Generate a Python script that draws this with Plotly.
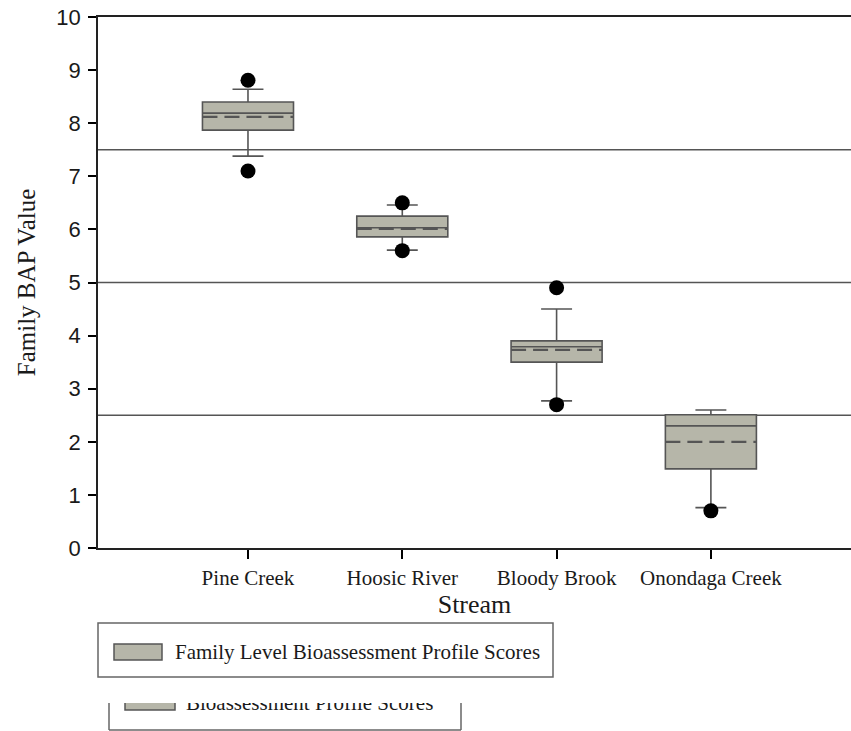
import plotly.graph_objects as go

streams = ["Pine Creek", "Hoosic River", "Bloody Brook", "Onondaga Creek"]
positions = [0, 1, 2, 3]
q1 = [7.87, 5.86, 3.50, 1.49]
median = [8.19, 6.03, 3.79, 2.30]
q3 = [8.40, 6.25, 3.90, 2.51]
mean = [8.12, 6.01, 3.73, 2.00]
lower_whisker = [7.38, 5.61, 2.77, 0.76]
upper_whisker = [8.64, 6.46, 4.50, 2.60]
outlier_x = [0, 0, 1, 1, 2, 2, 3]
outlier_y = [8.81, 7.10, 6.50, 5.60, 4.90, 2.70, 0.70]
category_lines = [7.5, 5.0, 2.5]
legend_label = "Family Level Bioassessment Profile Scores"
legend_label_cut = "Bioassessment Profile Scores"

W, H = 851, 731
BOX_W = 0.59
BOX_FILL = "#b6b6a9"
BOX_LINE = "#555555"
SERIF = "Liberation Serif"
SANS = "Liberation Sans"
TXT = "#1a1a1a"

fig = go.Figure()
fig.add_trace(go.Box(
    x=positions, q1=q1, median=median, q3=q3,
    lowerfence=lower_whisker, upperfence=upper_whisker,
    boxpoints=False, width=BOX_W, whiskerwidth=0.34,
    fillcolor=BOX_FILL, line=dict(color=BOX_LINE, width=1.6),
    showlegend=False, hoverinfo="skip",
))
# mean lines (long dashes)
mx, my = [], []
for p, m in zip(positions, mean):
    mx += [p - BOX_W / 2, p + BOX_W / 2, None]
    my += [m, m, None]
fig.add_trace(go.Scatter(
    x=mx, y=my, mode="lines", line=dict(color="#555555", width=2.2, dash="15px,7px"),
    showlegend=False, hoverinfo="skip",
))
fig.add_trace(go.Scatter(
    x=outlier_x, y=outlier_y, mode="markers",
    marker=dict(color="black", size=15), showlegend=False, hoverinfo="skip",
))

# clipped second legend text (bottom strip)
fig.add_trace(go.Scatter(
    x=[186], y=[705], mode="text", text=[legend_label_cut],
    textposition="middle right", textfont=dict(family=SERIF, size=21, color=TXT),
    xaxis="x2", yaxis="y2", cliponaxis=True, showlegend=False, hoverinfo="skip",
))

shapes = []
for v in category_lines:
    shapes.append(dict(type="line", xref="paper", yref="y", x0=98 / W, x1=1, y0=v, y1=v,
                       line=dict(color="#555555", width=1.5), layer="below"))


def px(xp):
    return xp / W


def py(yp):
    return 1 - yp / H


# legend box 1
shapes.append(dict(type="rect", xref="paper", yref="paper", x0=px(98), x1=px(553), y0=py(677), y1=py(623),
                   line=dict(color="#666666", width=1.5)))
shapes.append(dict(type="rect", xref="paper", yref="paper", x0=px(114), x1=px(162), y0=py(660), y1=py(644),
                   fillcolor=BOX_FILL, line=dict(color=BOX_LINE, width=1.5)))
# legend box 2 (cut off at the top)
shapes.append(dict(type="line", xref="paper", yref="paper", x0=px(109), x1=px(109), y0=py(730), y1=py(703),
                   line=dict(color="#666666", width=1.5)))
shapes.append(dict(type="line", xref="paper", yref="paper", x0=px(461), x1=px(461), y0=py(730), y1=py(703),
                   line=dict(color="#666666", width=1.5)))
shapes.append(dict(type="line", xref="paper", yref="paper", x0=px(109), x1=px(461), y0=py(730), y1=py(730),
                   line=dict(color="#666666", width=1.5)))
shapes.append(dict(type="rect", xref="x2", yref="y2", x0=125, x1=175, y0=694, y1=710,
                   fillcolor=BOX_FILL, line=dict(color=BOX_LINE, width=1.5)))

annotations = [
    dict(xref="paper", yref="paper", x=px(173), y=py(652), text=legend_label, showarrow=False,
         xanchor="left", yanchor="middle", font=dict(family=SERIF, size=21, color=TXT)),
]

fig.update_layout(
    width=W, height=H, margin=dict(l=0, r=0, t=0, b=0, autoexpand=False),
    paper_bgcolor="white", plot_bgcolor="white",
    shapes=shapes, annotations=annotations,
    xaxis=dict(
        domain=[98 / W, 1], range=[-0.972, 3.908],
        tickvals=positions, ticktext=streams, ticks="outside", ticklen=9, tickwidth=1.5,
        tickcolor="black", showline=True, linecolor="#222", linewidth=1.8, mirror=True,
        showgrid=False, zeroline=False, ticklabelstandoff=1,
        tickfont=dict(family=SERIF, size=21, color=TXT),
        title=dict(text="Stream", font=dict(family=SERIF, size=26, color=TXT), standoff=0),
    ),
    yaxis=dict(
        domain=[1 - 548 / H, 1 - 17 / H], range=[0, 10], dtick=1,
        ticks="outside", ticklen=8, tickwidth=1.5, tickcolor="black",
        showline=True, linecolor="#222", linewidth=1.8,
        showgrid=False, zeroline=False, ticklabelstandoff=3,
        tickfont=dict(family=SANS, size=22, color=TXT),
        title=dict(text="Family BAP Value", font=dict(family=SERIF, size=25, color=TXT), standoff=13),
    ),
    xaxis2=dict(domain=[0, 1], range=[0, W], visible=False, anchor="y2"),
    yaxis2=dict(domain=[0, (H - 703) / H], range=[H, 703], visible=False, anchor="x2"),
)

fig.write_html("out.html", config={"displayModeBar": False},
               post_script="document.body.style.margin='0';document.body.style.overflow='hidden';")
